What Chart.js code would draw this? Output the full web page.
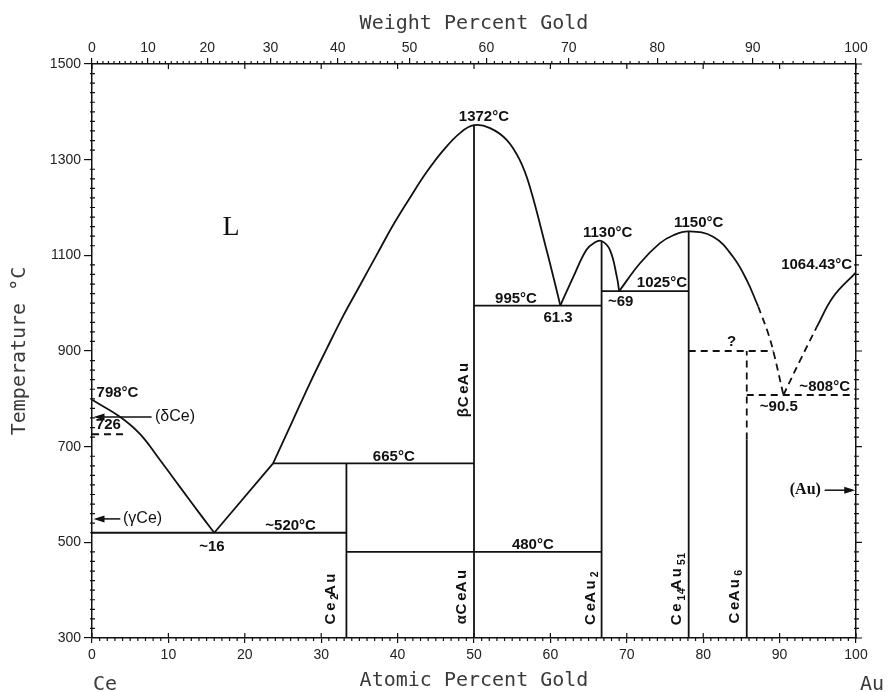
<!DOCTYPE html>
<html>
<head>
<meta charset="utf-8">
<title>Ce-Au phase diagram</title>
<script src="https://cdn.jsdelivr.net/npm/chart.js@4.4.1/dist/chart.umd.min.js"></script>
<style>
  html, body { margin: 0; padding: 0; background: #fff; }
</style>
</head>
<body>
<canvas id="myChart" width="889" height="692"></canvas>
<script>
'use strict';

//Axis ticks
var atomicTicks = [0, 10, 20, 30, 40, 50, 60, 70, 80, 90, 100];
var weightTicks = [0, 10, 20, 30, 40, 50, 60, 70, 80, 90, 100];
var tempTicks = [300, 500, 700, 900, 1100, 1300, 1500];

//atomic masses, used for the weight percent axis on top
var massCe = 140.116;
var massAu = 196.967;

//liquidus curves (at.% Au, deg C)
var liqCeX = [0, 3.7, 6.3, 8.9, 11.5, 14.1, 16];
var liqCeT = [798, 762, 726, 672, 616, 560, 520];
var liqKinkX = [16, 23.7];
var liqKinkT = [520, 665];
var liqCeAuX = [23.7, 26.35, 28.5, 30.7, 32.9, 35.1, 37.3, 39.4, 41.6, 43.8, 46.0, 48.2, 50, 52.1, 54.3, 56.0, 57.3, 59.5, 60.6, 61.3];
var liqCeAuT = [665, 757, 832, 904, 974, 1038, 1102, 1163, 1220, 1274, 1320, 1356, 1372, 1366, 1341, 1299, 1244, 1111, 1041, 995];
var liqCeAu2X = [61.3, 63.0, 64.7, 65.8, 66.7, 67.8, 68.7, 69];
var liqCeAu2T = [995, 1055, 1111, 1127, 1130, 1111, 1055, 1025];
var liqCe14X = [69, 71.7, 74.3, 76.1, 78.1, 81.3, 83.9, 85.7, 87.2];
var liqCe14T = [1025, 1083, 1125, 1142, 1150, 1139, 1097, 1048, 993];
var liqCe14DashX = [87.2, 88.5, 89.2, 90.5];
var liqCe14DashT = [993, 937, 898, 808];
var liqAuDashX = [90.5, 92.7, 94.85];
var liqAuDashT = [808, 881, 950];
var liqAuX = [94.85, 97.0, 100];
var liqAuT = [950, 1013, 1064.43];

//compounds: composition and top of the vertical line
var compoundX = [33.3, 50, 66.7, 78.1, 85.7];
var compoundTop = [665, 1372, 1130, 1150, 715];
var ceAu6DashT = [715, 900];

//invariant (horizontal) lines
var invariantT = [520, 665, 480, 995, 1025];
var invariantFrom = [0, 23.7, 33.3, 50, 66.7];
var invariantTo = [33.3, 50, 66.7, 66.7, 78.1];
var dashedT = [726, 900, 808];
var dashedFrom = [0, 78.1, 85.7];
var dashedTo = [4.4, 89.2, 100];

//text on the diagram: [text, at.% Au, deg C]
var labels = [
  ['1372°C', 51.3, 1389],
  ['1130°C', 67.5, 1147],
  ['1150°C', 79.4, 1168],
  ['1064.43°C', 94.85, 1080],
  ['995°C', 55.5, 1009],
  ['61.3', 61.0, 969],
  ['1025°C', 74.6, 1042],
  ['~69', 69.2, 1003],
  ['?', 83.7, 919],
  ['~808°C', 95.9, 825],
  ['~90.5', 89.9, 784],
  ['798°C', 3.34, 812],
  ['726', 2.14, 745],
  ['~16', 15.7, 491],
  ['~520°C', 26.0, 535],
  ['665°C', 39.5, 679],
  ['480°C', 57.7, 494]
];
//vertical phase names: [text, at.% Au, deg C of the centre]
var phaseNames = [
  ['βCeAu', 48.7, 828],
  ['Ce_2Au', 31.2, 392],
  ['αCeAu', 48.4, 395],
  ['CeAu_2', 65.3, 392],
  ['Ce_{14}Au_{51}', 76.6, 411],
  ['CeAu_6', 84.1, 395]
];
//arrows: [text, deg C, tail at.%, tip at.%, text at.%]
var arrows = [
  ['(δCe)', 762, 7.8, 0.2, 8.25],
  ['(γCe)', 549, 3.7, 0.2, 4.06],
  ['(Au)', 609, 95.9, 99.9, 95.4]
];

function wtToAt(w) {
  var nAu = w / massAu;
  var nCe = (100 - w) / massCe;
  return 100 * nAu / (nAu + nCe);
}

function pts(xs, ts) {
  return xs.map(function (x, i) { return { x: x, y: ts[i] }; });
}

function line(data, dashed, curved) {
  return {
    data: data,
    showLine: true,
    borderColor: '#111',
    borderWidth: 1.8,
    borderDash: dashed ? [7, 5] : [],
    pointRadius: 0,
    fill: false,
    tension: curved ? 0.4 : 0
  };
}

var datasets = [
  line(pts(liqCeX, liqCeT), false, true),
  line(pts(liqKinkX, liqKinkT), false, false),
  line(pts(liqCeAuX, liqCeAuT), false, true),
  line(pts(liqCeAu2X, liqCeAu2T), false, true),
  line(pts(liqCe14X, liqCe14T), false, true),
  line(pts(liqCe14DashX, liqCe14DashT), true, true),
  line(pts(liqAuDashX, liqAuDashT), true, true),
  line(pts(liqAuX, liqAuT), false, true),
  line(pts([compoundX[4], compoundX[4]], ceAu6DashT), true, false)
];
for (var i = 0; i < compoundX.length; i++) {
  datasets.push(line(pts([compoundX[i], compoundX[i]], [300, compoundTop[i]]), false, false));
}
for (var j = 0; j < invariantT.length; j++) {
  datasets.push(line(pts([invariantFrom[j], invariantTo[j]], [invariantT[j], invariantT[j]]), false, false));
}
for (var k = 0; k < dashedT.length; k++) {
  datasets.push(line(pts([dashedFrom[k], dashedTo[k]], [dashedT[k], dashedT[k]]), true, false));
}

//draws text with _sub parts and letter spacing, centred on 0,0
function drawRich(ctx, str, size, spacing) {
  var chars = [];
  var re = /_\{([^}]*)\}|_(.)|([^_]+)/g;
  var m;
  while ((m = re.exec(str)) !== null) {
    var txt = m[3] || m[1] || m[2];
    for (var c = 0; c < txt.length; c++) chars.push({ c: txt[c], sub: !m[3] });
  }
  var total = 0;
  chars.forEach(function (ch, n) {
    ctx.font = 'bold ' + (ch.sub ? size * 0.7 : size) + 'px "Liberation Sans"';
    ch.w = ctx.measureText(ch.c).width;
    ch.gap = ch.sub ? 0.5 : spacing;
    total += ch.w + (n < chars.length - 1 ? ch.gap : 0);
  });
  var pos = -total / 2;
  chars.forEach(function (ch) {
    ctx.font = 'bold ' + (ch.sub ? size * 0.7 : size) + 'px "Liberation Sans"';
    ctx.fillText(ch.c, pos, ch.sub ? size * 0.3 : 0);
    pos += ch.w + ch.gap;
  });
}

var diagramText = {
  id: 'diagramText',
  afterDraw: function (chart) {
    var ctx = chart.ctx;
    var xs = chart.scales.x;
    var ys = chart.scales.y;
    var area = chart.chartArea;
    ctx.save();
    ctx.strokeStyle = '#111';
    ctx.fillStyle = '#111';
    ctx.lineWidth = 1.2;

    //minor and inner ticks
    ctx.beginPath();
    for (var a = 0; a <= 100; a++) {
      var px = xs.getPixelForValue(a);
      if (a % 10 === 0) {
        ctx.moveTo(px, area.bottom); ctx.lineTo(px, area.bottom - 5);
        ctx.moveTo(px, area.top); ctx.lineTo(px, area.top + 5);
      } else {
        ctx.moveTo(px, area.bottom); ctx.lineTo(px, area.bottom + 3);
      }
    }
    for (var w = 1; w < 100; w++) {
      if (w % 10 === 0) continue;
      var wx = xs.getPixelForValue(wtToAt(w));
      ctx.moveTo(wx, area.top); ctx.lineTo(wx, area.top - 3);
    }
    for (var t = 300; t <= 1500; t += 20) {
      var py = ys.getPixelForValue(t);
      if ((t - 300) % 200 === 0) {
        ctx.moveTo(area.right, py); ctx.lineTo(area.right + 6, py);
      } else {
        ctx.moveTo(area.left - 2, py); ctx.lineTo(area.left + 3, py);
        ctx.moveTo(area.right - 2, py); ctx.lineTo(area.right + 3, py);
      }
    }
    ctx.stroke();

    //numbers on the diagram
    ctx.textAlign = 'center';
    ctx.textBaseline = 'middle';
    ctx.font = 'bold 15px "Liberation Sans"';
    labels.forEach(function (l) {
      ctx.fillText(l[0], xs.getPixelForValue(l[1]), ys.getPixelForValue(l[2]));
    });

    //phase names written upwards
    phaseNames.forEach(function (p) {
      ctx.save();
      ctx.translate(xs.getPixelForValue(p[1]), ys.getPixelForValue(p[2]));
      ctx.rotate(-Math.PI / 2);
      drawRich(ctx, p[0], 15, 1.5);
      ctx.restore();
    });

    //arrows for the terminal solid solutions
    ctx.lineWidth = 1.5;
    arrows.forEach(function (ar) {
      var y = ys.getPixelForValue(ar[1]);
      var x1 = xs.getPixelForValue(ar[2]);
      var x2 = xs.getPixelForValue(ar[3]);
      var dir = x2 > x1 ? 1 : -1;
      ctx.beginPath();
      ctx.moveTo(x1, y);
      ctx.lineTo(x2 - dir * 8, y);
      ctx.stroke();
      ctx.beginPath();
      ctx.moveTo(x2, y);
      ctx.lineTo(x2 - dir * 11, y - 3.5);
      ctx.lineTo(x2 - dir * 11, y + 3.5);
      ctx.closePath();
      ctx.fill();
      var tx = xs.getPixelForValue(ar[4]);
      if (dir > 0) {
        ctx.textAlign = 'right';
        ctx.font = 'bold 16px "Liberation Serif"';
      } else {
        ctx.textAlign = 'left';
        ctx.font = '16px "Liberation Sans"';
      }
      ctx.fillText(ar[0], tx, y);
    });

    //liquid field
    ctx.textAlign = 'center';
    ctx.font = '28px "Liberation Serif"';
    ctx.fillText('L', xs.getPixelForValue(18.2), ys.getPixelForValue(1157));

    //axis titles
    ctx.fillStyle = '#3a3a3a';
    ctx.font = '20px "DejaVu Sans Mono"';
    ctx.textBaseline = 'alphabetic';
    var mid = (area.left + area.right) / 2;
    ctx.fillText('Weight Percent Gold', mid, 29);
    ctx.fillText('Atomic Percent Gold', mid, 686);
    ctx.textAlign = 'left';
    ctx.fillText('Ce', area.left + 1, 690);
    ctx.fillText('Au', area.right + 4, 690);
    ctx.save();
    ctx.translate(25, (area.top + area.bottom) / 2);
    ctx.rotate(-Math.PI / 2);
    ctx.textAlign = 'center';
    ctx.fillText('Temperature °C', 0, 0);
    ctx.restore();

    ctx.restore();
  }
};

var tickFont = { family: 'Liberation Sans', size: 14 };
var axisBorder = { display: true, color: '#111', width: 1.5 };

var ctx = document.getElementById('myChart').getContext('2d');
var chart = new Chart(ctx, {
  type: 'scatter',
  data: { datasets: datasets },
  options: {
    responsive: false,
    animation: false,
    layout: { padding: 0 },
    plugins: {
      legend: { display: false },
      tooltip: { enabled: false }
    },
    scales: {
      x: {
        type: 'linear',
        position: 'bottom',
        min: 0,
        max: 100,
        afterBuildTicks: function (axis) {
          axis.ticks = atomicTicks.map(function (v) { return { value: v }; });
        },
        ticks: {
          font: tickFont, color: '#222', padding: 4, autoSkip: false, maxRotation: 0,
          callback: function (value) { return String(value); }
        },
        grid: { drawOnChartArea: false, tickLength: 5, color: '#111', lineWidth: 1.2 },
        border: axisBorder,
        afterFit: function (s) { s.height = 54; }
      },
      x2: {
        type: 'linear',
        position: 'top',
        min: 0,
        max: 100,
        afterBuildTicks: function (axis) {
          axis.ticks = weightTicks.map(function (w) { return { value: wtToAt(w) }; });
        },
        ticks: {
          font: tickFont,
          color: '#222',
          padding: 1,
          autoSkip: false,
          maxRotation: 0,
          callback: function (value, index) { return String(weightTicks[index]); }
        },
        grid: { drawOnChartArea: false, tickLength: 6, color: '#111', lineWidth: 1.2 },
        border: axisBorder,
        afterFit: function (s) { s.height = 64; }
      },
      y: {
        type: 'linear',
        position: 'left',
        min: 300,
        max: 1500,
        afterBuildTicks: function (axis) {
          axis.ticks = tempTicks.map(function (v) { return { value: v }; });
        },
        ticks: {
          font: tickFont, color: '#222', padding: 3,
          callback: function (value) { return String(value); }
        },
        grid: { drawOnChartArea: false, tickLength: 8, color: '#111', lineWidth: 1.2 },
        border: axisBorder,
        afterFit: function (s) { s.width = 92; }
      },
      y2: {
        type: 'linear',
        position: 'right',
        min: 300,
        max: 1500,
        ticks: { display: false },
        grid: { display: false },
        border: axisBorder,
        afterFit: function (s) { s.width = 33; }
      }
    }
  },
  plugins: [diagramText]
});
</script>
</body>
</html>
